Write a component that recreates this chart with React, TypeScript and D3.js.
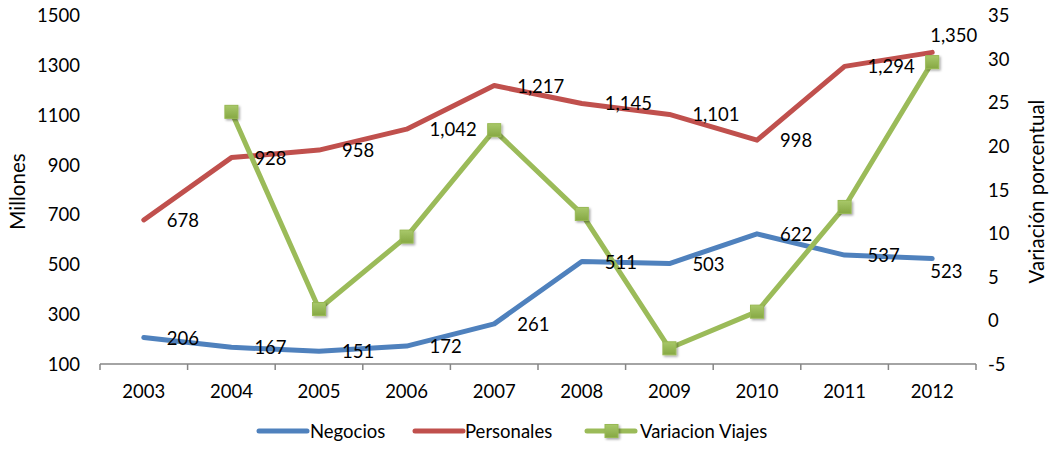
import * as d3 from "d3";

// data
const years = ["2003", "2004", "2005", "2006", "2007", "2008", "2009", "2010", "2011", "2012"];
const negocios = [206, 167, 151, 172, 261, 511, 503, 622, 537, 523];
const personales = [678, 928, 958, 1042, 1217, 1145, 1101, 998, 1294, 1350];
const variacion = [23.9, 1.3, 9.6, 21.8, 12.2, -3.2, 1.0, 13.0, 29.6];
const variacionYears = years.slice(1);
const leftTicks = [100, 300, 500, 700, 900, 1100, 1300, 1500];
const rightTicks = [-5, 0, 5, 10, 15, 20, 25, 30, 35];

const width = 1052;
const height = 454;
const marginLeft = 100;
const marginRight = 76;
const marginTop = 15;
const plotBottom = 364;

const FONT = "Lato, 'Open Sans', sans-serif";
const FS = 18.5;
const TITLE_FS = 20.5;

const BLUE = "#4F81BD";
const RED = "#C0504D";
const GREEN = "#9BBB59";

function App() {
  const x = d3.scaleBand().domain(years).range([marginLeft, width - marginRight]);
  const cx = (d: string) => (x(d) as number) + x.bandwidth() / 2;

  const yL = d3.scaleLinear().domain([100, 1500]).range([plotBottom, marginTop]);
  const yR = d3.scaleLinear().domain([-5, 35]).range([plotBottom, marginTop]);

  const lineL = d3.line<number>()
    .x((_, i) => cx(years[i]))
    .y(d => yL(d));
  const lineR = d3.line<number>()
    .x((_, i) => cx(variacionYears[i]))
    .y(d => yR(d));

  const fmt = d3.format(",");
  const boundaries = [...years.map(d => x(d) as number), x.range()[1]];

  // last labels get pushed above / below so they stay inside
  const labelPos = (i: number, series: "neg" | "per") => {
    if (i === years.length - 1) return series === "per" ? { dx: -2, dy: -17 } : { dx: -2, dy: 12 };
    return { dx: 23, dy: 0 };
  };

  const legendY = 431;
  const midY = (marginTop + plotBottom) / 2 + 2;

  return (
    <svg width={width} height={height} style={{ position: "absolute", left: 0, top: 0, fontFamily: FONT }}>
      <defs>
        <linearGradient id="mk" x1="0" x2="0" y1="0" y2="1">
          <stop offset="0%" stopColor="#A8C86A" />
          <stop offset="100%" stopColor="#86A843" />
        </linearGradient>
        <filter id="sh" x="-50%" y="-50%" width="200%" height="200%">
          <feDropShadow dx="1.5" dy="1.5" stdDeviation="1.2" floodColor="#000" floodOpacity="0.35" />
        </filter>
      </defs>

      {/* x axis */}
      <line x1={marginLeft} x2={width - marginRight} y1={plotBottom} y2={plotBottom} stroke="#868686" strokeWidth={1.5} />
      {boundaries.map((b, i) => (
        <line key={i} x1={b} x2={b} y1={plotBottom} y2={plotBottom + 6} stroke="#868686" strokeWidth={1.5} />
      ))}
      {years.map(d => (
        <text key={d} x={cx(d)} y={391} textAnchor="middle" dominantBaseline="central" fontSize={FS} fill="#000">{d}</text>
      ))}

      {/* left axis labels */}
      {leftTicks.map(t => (
        <text key={t} x={80} y={yL(t)} textAnchor="end" dominantBaseline="central" fontSize={FS} fill="#000">{t}</text>
      ))}
      <text transform={`translate(17, ${midY}) rotate(-90)`} textAnchor="middle" dominantBaseline="central" fontSize={TITLE_FS} fill="#000">Millones</text>

      {/* right axis labels */}
      {rightTicks.map(t => (
        <text key={t} x={988} y={yR(t)} textAnchor="start" dominantBaseline="central" fontSize={FS} fill="#000">{t}</text>
      ))}
      <text transform={`translate(1036, ${midY}) rotate(-90)`} textAnchor="middle" dominantBaseline="central" fontSize={TITLE_FS} fill="#000">Variación porcentual</text>

      {/* lines */}
      <path d={lineL(negocios) ?? ""} fill="none" stroke={BLUE} strokeWidth={5} strokeLinejoin="round" strokeLinecap="round" />
      <path d={lineL(personales) ?? ""} fill="none" stroke={RED} strokeWidth={5} strokeLinejoin="round" strokeLinecap="round" />
      <path d={lineR(variacion) ?? ""} fill="none" stroke={GREEN} strokeWidth={5} strokeLinejoin="round" strokeLinecap="round" />
      <g filter="url(#sh)">
        {variacion.map((v, i) => (
          <rect key={i} x={cx(variacionYears[i]) - 6.5} y={yR(v) - 6.5} width={13} height={13} fill="url(#mk)" stroke="#98B954" strokeWidth={1} />
        ))}
      </g>

      {/* data labels */}
      {negocios.map((v, i) => {
        const p = labelPos(i, "neg");
        return (
          <text key={"n" + i} x={cx(years[i]) + p.dx} y={yL(v) + p.dy} dominantBaseline="central" fontSize={FS} fill="#000">{fmt(v)}</text>
        );
      })}
      {personales.map((v, i) => {
        const p = labelPos(i, "per");
        return (
          <text key={"p" + i} x={cx(years[i]) + p.dx} y={yL(v) + p.dy} dominantBaseline="central" fontSize={FS} fill="#000">{fmt(v)}</text>
        );
      })}

      {/* legend */}
      <line x1={259} x2={307} y1={legendY} y2={legendY} stroke={BLUE} strokeWidth={5} strokeLinecap="round" />
      <text x={310} y={legendY} dominantBaseline="central" fontSize={FS} fill="#000">Negocios</text>
      <line x1={415} x2={463} y1={legendY} y2={legendY} stroke={RED} strokeWidth={5} strokeLinecap="round" />
      <text x={465} y={legendY} dominantBaseline="central" fontSize={FS} fill="#000">Personales</text>
      <line x1={587} x2={635} y1={legendY} y2={legendY} stroke={GREEN} strokeWidth={5} strokeLinecap="round" />
      <rect x={605} y={legendY - 6.5} width={13} height={13} fill="url(#mk)" stroke="#98B954" strokeWidth={1} filter="url(#sh)" />
      <text x={640} y={legendY} dominantBaseline="central" fontSize={FS} fill="#000">Variacion Viajes</text>
    </svg>
  );
}

export default App;
